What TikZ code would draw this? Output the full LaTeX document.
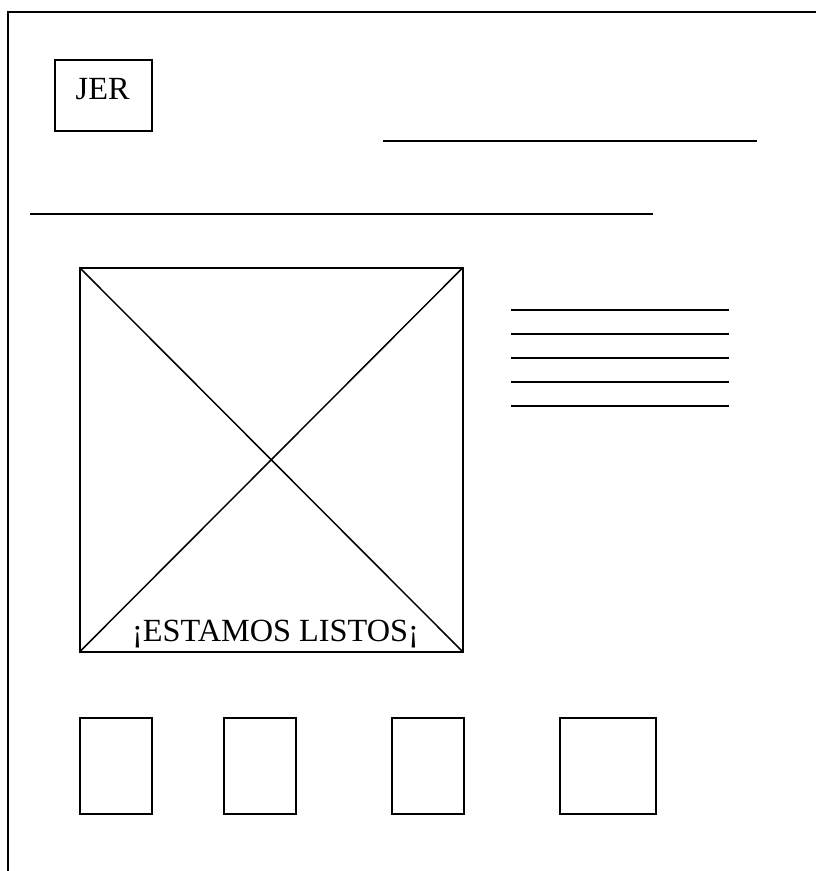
\documentclass[tikz,border=0pt]{standalone}
\usepackage{fontspec}
\setmainfont{Liberation Serif}
\begin{document}
\begin{tikzpicture}[x=1pt,y=-1pt,
  box/.style={draw, line width=2pt, inner sep=0pt, outer sep=0pt},
  rule/.style={line width=2.2pt},
  diag/.style={line width=1.5pt},
  lbl/.style={inner sep=0pt, font=\fontsize{32.3}{37}\selectfont}]
\useasboundingbox (0,0) rectangle (816,871);
% outer frame
\draw[line width=2pt] (7.5,871) -- (7.5,11.5) -- (816,11.5);
% logo box
\node[box, minimum width=96.5pt, minimum height=71pt] (jer) at (103.5,95.5) {};
\node[lbl, anchor=base west] (jertext) at (75.5,99.5) {JER};
% header rules
\draw[rule] (383,141) -- (756.5,141);
\draw[rule] (30,214) -- (652.5,214);
% main image placeholder
\node[box, minimum width=383.5pt, minimum height=384.5pt] (img) at (271.25,459.75) {};
\draw[diag] (img.north west) -- (img.south east);
\draw[diag] (img.north east) -- (img.south west);
\node[lbl, anchor=base] (caption) at (275.5,641) {¡ESTAMOS LISTOS¡};
% text lines
\foreach \y in {310,334,358,382,406}
  \draw[rule] (511,\y) -- (729,\y);
% thumbnails
\node[box, minimum width=72.5pt, minimum height=96.5pt] (t1) at (115.75,766) {};
\node[box, minimum width=72.5pt, minimum height=96.5pt] (t2) at (260,766) {};
\node[box, minimum width=72pt, minimum height=96.5pt] (t3) at (428,766) {};
\node[box, minimum width=96pt, minimum height=96.5pt] (t4) at (608,766) {};
\end{tikzpicture}
\end{document}
